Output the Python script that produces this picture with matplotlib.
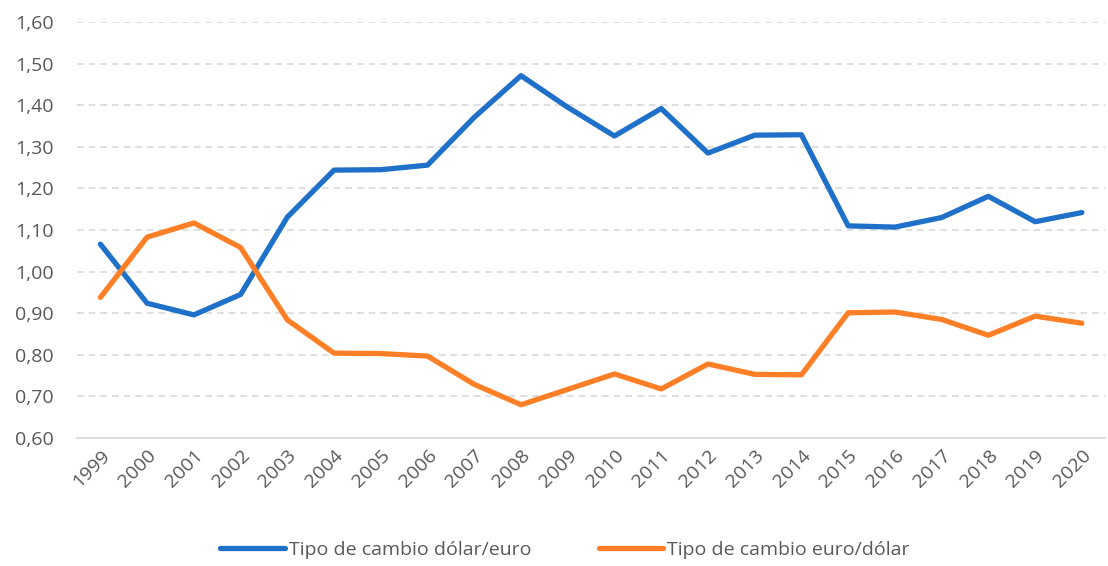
import matplotlib.pyplot as plt
from matplotlib.ticker import FuncFormatter

# Datos
anios = [str(a) for a in range(1999, 2021)]
dolar_euro = [1.066, 0.924, 0.896, 0.945, 1.131, 1.244, 1.245, 1.256, 1.371, 1.471, 1.395,
              1.326, 1.392, 1.285, 1.328, 1.329, 1.110, 1.107, 1.130, 1.181, 1.120, 1.142]
euro_dolar = [0.938, 1.083, 1.117, 1.058, 0.884, 0.804, 0.803, 0.797, 0.729, 0.680, 0.717,
              0.754, 0.718, 0.778, 0.753, 0.752, 0.901, 0.903, 0.885, 0.847, 0.893, 0.876]

plt.rcParams['font.family'] = ['Open Sans', 'DejaVu Sans']
gris = '#595959'

fig = plt.figure(figsize=(11.08, 5.66), dpi=100)
ax = fig.add_axes([0.0695, 0.2261, 0.928, 0.735])

x = range(len(anios))
ax.plot(x, dolar_euro, color='#1F70C8', linewidth=3.8, label='Tipo de cambio dólar/euro',
        solid_capstyle='round', solid_joinstyle='round')
ax.plot(x, euro_dolar, color='#FF7F27', linewidth=3.8, label='Tipo de cambio euro/dólar',
        solid_capstyle='round', solid_joinstyle='round')

ax.set_xlim(-0.5, len(anios) - 0.5)
ax.set_ylim(0.6, 1.6)
ax.set_yticks([0.6 + 0.1 * i for i in range(11)])
ax.yaxis.set_major_formatter(FuncFormatter(lambda v, p: f'{v:.2f}'.replace('.', ',')))
ax.set_xticks(list(x))
ax.set_xticklabels(anios, rotation=45, ha='right', rotation_mode='anchor')

# rejilla punteada gris clara
ax.grid(axis='y', linestyle=(0, (4, 3)), color='#D9D9D9', linewidth=1.2)
ax.set_axisbelow(True)
for s in ['top', 'right', 'left']:
    ax.spines[s].set_visible(False)
ax.spines['bottom'].set_color('#D9D9D9')
ax.spines['bottom'].set_linewidth(1.2)
ax.tick_params(axis='both', length=0, colors=gris, labelsize=14)
ax.tick_params(axis='y', pad=17)
ax.tick_params(axis='x', pad=6)

fig.legend(*ax.get_legend_handles_labels(), loc='center', bbox_to_anchor=(0.51, 0.028),
           ncol=2, frameon=False, fontsize=14, labelcolor=gris, handlelength=3.3,
           handletextpad=0.2, columnspacing=3.5)

fig.savefig('out.png', dpi=100)
